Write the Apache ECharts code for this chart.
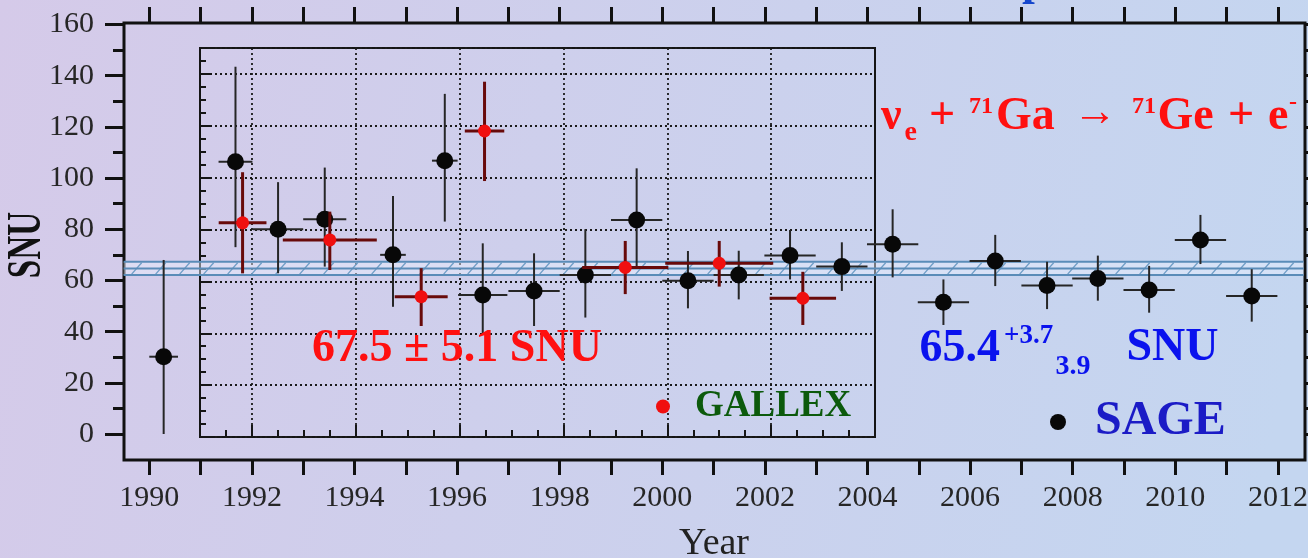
<!DOCTYPE html>
<html>
<head>
<meta charset="utf-8">
<script src="https://cdn.jsdelivr.net/npm/echarts/dist/echarts.min.js"></script>
<style>
html, body { margin: 0; padding: 0; overflow: hidden; }
#chart { width: 1308px; height: 558px; }
</style>
</head>
<body>
<div id="chart"></div>
<script>
// ---------------- data ----------------
const sageYear     = [1990.28, 1991.68, 1992.51, 1993.42, 1994.75, 1995.76, 1996.50, 1997.50, 1998.50, 1999.50, 2000.50, 2001.49, 2002.49, 2003.50, 2004.49, 2005.48, 2006.49, 2007.50, 2008.49, 2009.49, 2010.49, 2011.49];
const sageSNU      = [30.2, 106.4, 80.0, 83.9, 70.0, 106.8, 54.3, 55.9, 62.1, 83.6, 59.9, 62.1, 69.7, 65.4, 74.1, 51.5, 67.6, 58.0, 60.8, 56.3, 75.8, 53.9];
const sageLow      = [0.0, 73.0, 62.8, 65.4, 49.7, 83.0, 39.3, 42.2, 45.5, 65.4, 49.1, 52.6, 60.4, 55.9, 61.2, 42.6, 57.8, 48.8, 52.1, 47.4, 66.4, 43.9];
const sageHigh     = [68.0, 143.5, 98.4, 104.1, 93.0, 132.9, 74.5, 70.6, 80.0, 103.8, 71.5, 71.6, 79.7, 74.9, 87.8, 60.4, 77.8, 67.3, 69.7, 65.7, 85.6, 64.4];
const sageHalfSpan = [0.28, 0.33, 0.49, 0.42, 0.25, 0.25, 0.48, 0.50, 0.50, 0.50, 0.50, 0.49, 0.50, 0.50, 0.50, 0.50, 0.50, 0.50, 0.50, 0.50, 0.50, 0.50];

const gallexYear     = [1991.82, 1993.50, 1995.26, 1996.48, 1999.19, 2001.00, 2002.61];
const gallexSNU      = [82.6, 76.0, 54.1, 118.0, 65.4, 67.0, 53.5];
const gallexLow      = [63.1, 64.4, 42.8, 98.7, 55.1, 58.0, 43.2];
const gallexHigh     = [102.1, 86.9, 65.1, 137.0, 75.6, 75.6, 63.7];
const gallexHalfSpan = [0.46, 0.905, 0.51, 0.38, 0.83, 1.04, 0.64];

// combined SAGE band: [lower, central, upper] SNU
const bandSNU = [62.1, 64.7, 67.3];

// axes
const frameYears = [1989.5, 2012.5];
const xLabelYears = [1990, 1992, 1994, 1996, 1998, 2000, 2002, 2004, 2006, 2008, 2010, 2012];
const insetMajorYears = [1992, 1994, 1996, 1998, 2000, 2002];

// ---------------- chart ----------------
const SERIF = "'Liberation Serif', 'Times New Roman', serif";
const chart = echarts.init(document.getElementById('chart'), null, {renderer: 'canvas'});

function errorBars(color, width) {
  return function (params, api) {
    const x = api.value(0), y = api.value(1), lo = api.value(2), hi = api.value(3), hw = api.value(4);
    const a = api.coord([x, lo]), b = api.coord([x, hi]);
    const l = api.coord([x - hw, y]), r = api.coord([x + hw, y]);
    const st = {stroke: color, lineWidth: width, lineCap: 'butt'};
    return {type: 'group', children: [
      {type: 'line', shape: {x1: a[0], y1: a[1], x2: b[0], y2: b[1]}, style: st},
      {type: 'line', shape: {x1: l[0], y1: l[1], x2: r[0], y2: r[1]}, style: st}
    ]};
  };
}

function bandRender(params, api) {
  const lo = api.value(0), mid = api.value(1), hi = api.value(2);
  const pTop = api.coord([frameYears[0], hi]);
  const pBot = api.coord([frameYears[1], lo]);
  const yMid = api.coord([frameYears[0], mid])[1];
  const x0 = pTop[0], x1 = pBot[0], yT = pTop[1], yB = pBot[1];
  const lineStyle = {stroke: '#5a8cb8', lineWidth: 2};
  const children = [
    {type: 'rect', shape: {x: x0, y: yT, width: x1 - x0, height: yB - yT}, style: {fill: 'rgba(235,242,255,0.45)'}}
  ];
  for (let x = x0 + 8; x + 10 < x1; x += 24) {
    children.push({type: 'line', shape: {x1: x, y1: yB - 1, x2: x + 10, y2: yT + 1}, style: {stroke: '#6f9dc6', lineWidth: 1.3}});
  }
  children.push({type: 'line', shape: {x1: x0, y1: yT, x2: x1, y2: yT}, style: lineStyle});
  children.push({type: 'line', shape: {x1: x0, y1: yMid, x2: x1, y2: yMid}, style: lineStyle});
  children.push({type: 'line', shape: {x1: x0, y1: yB, x2: x1, y2: yB}, style: lineStyle});
  return {type: 'group', children: children};
}

const sageErr = sageYear.map((y, i) => [y, sageSNU[i], sageLow[i], sageHigh[i], sageHalfSpan[i]]);
const gallexErr = gallexYear.map((y, i) => [y, gallexSNU[i], gallexLow[i], gallexHigh[i], gallexHalfSpan[i]]);
const sagePts = sageYear.map((y, i) => [y, sageSNU[i]]);
const gallexPts = gallexYear.map((y, i) => [y, gallexSNU[i]]);

const tickStyle3 = {color: '#111', width: 3};
const tickStyle2 = {color: '#161616', width: 2};
const hidden = {show: false};

function txt(text, x, y, size, color, extra) {
  return {
    type: 'text', x: x, y: y, z: 50,
    style: Object.assign({
      text: text, fill: color, font: 'bold ' + size + 'px ' + SERIF,
      textAlign: 'left', textVerticalAlign: 'middle'
    }, extra || {})
  };
}

const option = {
  animation: false,
  backgroundColor: {
    type: 'linear', x: 0, y: 0, x2: 1, y2: 0.5,
    colorStops: [{offset: 0, color: '#d5cae9'}, {offset: 1, color: '#c4d6f0'}]
  },
  grid: [
    {left: 124, top: 23, width: 1181, height: 437, show: true, borderColor: '#111', borderWidth: 3, backgroundColor: 'transparent', outerBoundsMode: 'none'},
    {left: 149.3, top: 24.5, width: 1128.6, height: 409.5, show: false, outerBoundsMode: 'none'},
    {left: 200, top: 48, width: 675, height: 389, show: true, borderColor: '#141414', borderWidth: 2, backgroundColor: 'transparent', outerBoundsMode: 'none'}
  ],
  xAxis: [
    {gridIndex: 0, type: 'value', min: 0, max: 1, show: false},
    {gridIndex: 1, type: 'value', min: 1990, max: 2012, interval: 1, position: 'bottom', offset: 26,
      axisLine: {show: false, onZero: false},
      axisTick: {show: true, inside: false, length: 15, lineStyle: tickStyle3},
      axisLabel: {show: true, margin: 23, fontSize: 30, fontFamily: SERIF, color: '#262626',
        formatter: v => xLabelYears.indexOf(Math.round(v)) >= 0 && Math.abs(v - Math.round(v)) < 1e-6 ? String(Math.round(v)) : ''},
      splitLine: hidden},
    {gridIndex: 1, type: 'value', min: 1990, max: 2012, interval: 1, position: 'top', offset: 1.5,
      axisLine: {show: false, onZero: false},
      axisTick: {show: true, inside: false, length: 16, lineStyle: tickStyle3},
      axisLabel: hidden, splitLine: hidden},
    {gridIndex: 2, type: 'value', min: 1991, max: 2004, interval: 0.5, position: 'bottom',
      axisLine: {show: false, onZero: false},
      axisTick: {show: true, inside: true, length: 7, lineStyle: tickStyle2},
      axisLabel: hidden, splitLine: hidden},
    {gridIndex: 2, type: 'value', min: 1991, max: 2004, interval: 1, position: 'bottom',
      axisLine: {show: false, onZero: false},
      axisTick: {show: true, inside: true, length: 12, lineStyle: tickStyle2, customValues: insetMajorYears},
      axisLabel: {show: false, customValues: insetMajorYears},
      splitLine: {show: true, lineStyle: {color: '#1a1a1a', width: 1.8, type: [2, 3]}}}
  ],
  yAxis: [
    {gridIndex: 0, type: 'value', min: 0, max: 1, show: false},
    {gridIndex: 1, type: 'value', min: 0, max: 160, interval: 20, position: 'left', offset: 25.3,
      axisLine: {show: false, onZero: false},
      axisTick: {show: true, inside: false, length: 19, lineStyle: tickStyle3},
      minorTick: {show: true, splitNumber: 2, length: 11, lineStyle: tickStyle3},
      axisLabel: {show: true, margin: 30, fontSize: 30, fontFamily: SERIF, color: '#262626'},
      splitLine: hidden, minorSplitLine: hidden},
    {gridIndex: 1, type: 'value', min: 0, max: 160, interval: 10, position: 'right', offset: 27.1,
      axisLine: {show: false, onZero: false},
      axisTick: {show: true, inside: false, length: 8, lineStyle: tickStyle3},
      axisLabel: hidden, splitLine: hidden},
    {gridIndex: 2, type: 'value', min: 0, max: 150, interval: 5, position: 'left',
      axisLine: {show: false, onZero: false},
      axisTick: {show: true, inside: true, length: 6, lineStyle: tickStyle2},
      axisLabel: hidden, splitLine: hidden},
    {gridIndex: 2, type: 'value', min: 0, max: 150, interval: 20, position: 'left',
      axisLine: {show: false, onZero: false},
      axisTick: {show: true, inside: true, length: 12, lineStyle: tickStyle2},
      axisLabel: hidden,
      splitLine: {show: true, lineStyle: {color: '#1a1a1a', width: 1.8, type: [2, 3]}}}
  ],
  legend: [
    {data: ['GALLEX'], left: 656, top: 388, padding: 0, orient: 'horizontal', icon: 'circle',
      itemWidth: 16, itemHeight: 14, selectedMode: false,
      textStyle: {fontFamily: SERIF, fontWeight: 'bold', fontSize: 37, color: '#0c5a0c', padding: [0, 0, 0, 19]}},
    {data: ['SAGE'], left: 1050, top: 398, padding: 0, orient: 'horizontal', icon: 'circle',
      itemWidth: 20, itemHeight: 16, selectedMode: false,
      textStyle: {fontFamily: SERIF, fontWeight: 'bold', fontSize: 48, color: '#1b1bc6', padding: [0, 0, 0, 22]}}
  ],
  series: [
    {type: 'custom', name: 'band', xAxisIndex: 1, yAxisIndex: 1, z: 3, clip: false,
      renderItem: bandRender, data: [bandSNU], silent: true},
    {type: 'custom', name: 'SAGE err', xAxisIndex: 1, yAxisIndex: 1, z: 4, clip: false,
      renderItem: errorBars('#262626', 2), encode: {x: 0, y: 1}, data: sageErr, silent: true},
    {type: 'scatter', name: 'SAGE', xAxisIndex: 1, yAxisIndex: 1, z: 5, symbol: 'circle', symbolSize: 17,
      itemStyle: {color: '#080808', opacity: 1}, data: sagePts, silent: true},
    {type: 'custom', name: 'GALLEX err', xAxisIndex: 3, yAxisIndex: 3, z: 6, clip: false,
      renderItem: errorBars('#680a0a', 3), encode: {x: 0, y: 1}, data: gallexErr, silent: true},
    {type: 'scatter', name: 'GALLEX', xAxisIndex: 3, yAxisIndex: 3, z: 7, symbol: 'circle', symbolSize: 13,
      itemStyle: {color: '#f00f0f', opacity: 1}, data: gallexPts, silent: true}
  ],
  graphic: [
    {type: 'text', x: 28, y: 245, rotation: Math.PI / 2, scaleX: 0.69, z: 50,
      style: {text: 'SNU', fill: '#111', font: 'bold 48px ' + SERIF, textAlign: 'center', textVerticalAlign: 'middle'}},
    {type: 'text', x: 714, y: 544, z: 50,
      style: {text: 'Year', fill: '#222', font: '38px ' + SERIF, textAlign: 'center', textVerticalAlign: 'middle'}},
    txt('p', 1022, -18, 46, '#1446cc'),
    txt('67.5 \u00b1 5.1 SNU', 457, 349, 46, '#ff1010', {textAlign: 'center'}),
    txt('65.4', 919.5, 349, 46, '#0a12ee'),
    txt('+3.7', 1004, 336, 27, '#0a12ee'),
    txt('3.9', 1055.5, 366.5, 28, '#0a12ee'),
    txt('SNU', 1126.5, 348.3, 46, '#0a12ee'),
    txt('\u03bd', 881, 117, 46, '#ff1010'),
    txt('e', 904.5, 133, 28, '#ff1010'),
    txt('+', 929, 117, 46, '#ff1010'),
    txt('71', 969, 107, 24, '#ff1010'),
    txt('Ga', 996, 117, 46, '#ff1010'),
    txt('\u2192', 1073, 113, 44, '#ff1010', {font: '44px ' + SERIF}),
    txt('71', 1132, 107, 24, '#ff1010'),
    txt('Ge', 1157.5, 117, 46, '#ff1010'),
    txt('+', 1228, 117, 46, '#ff1010'),
    txt('e', 1268, 117, 46, '#ff1010'),
    txt('-', 1289, 103, 24, '#ff1010')
  ]
};

chart.setOption(option);
</script>
</body>
</html>
